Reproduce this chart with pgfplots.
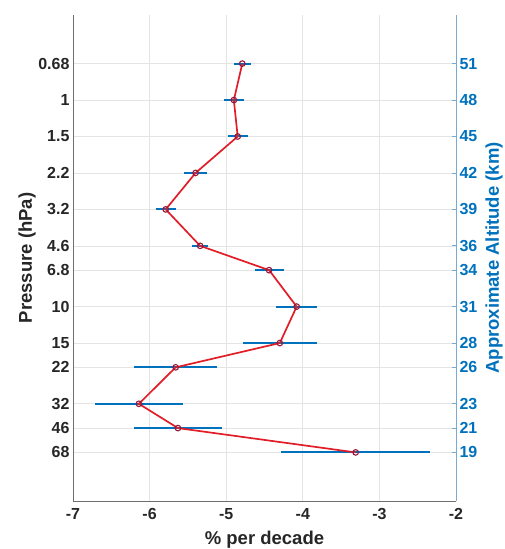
\documentclass[border=0pt]{standalone}
\usepackage{pgfplots}
\pgfplotsset{compat=1.18}
\usepackage{fontspec}
\setmainfont{Liberation Sans}

\definecolor{mblue}{RGB}{0,114,189}
\definecolor{axblue}{RGB}{120,170,210}
\definecolor{axgray}{RGB}{110,110,110}
\definecolor{gridgray}{RGB}{228,228,228}
\definecolor{trendred}{RGB}{225,30,40}
\definecolor{markedge}{RGB}{150,25,60}

% trend (%/decade) and its uncertainty versus approximate altitude (km)
\pgfplotstableread{
  x      y   e
  -4.79  51  0.11
  -4.90  48  0.13
  -4.85  45  0.13
  -5.40  42  0.155
  -5.79  39  0.13
  -5.34  36  0.10
  -4.44  34  0.19
  -4.08  31  0.27
  -4.30  28  0.48
  -5.66  26  0.545
  -6.14  23  0.57
  -5.63  21  0.57
  -3.31  19  0.97
}\trend

\begin{document}
\begin{tikzpicture}
\useasboundingbox (-73pt,-48pt) rectangle (431pt,501pt);
\begin{axis}[
  at={(0,0)}, anchor=south west,
  scale only axis, width=383pt, height=486pt,
  xmin=-7, xmax=-2, ymin=15, ymax=55,
  axis x line*=bottom, axis y line*=left,
  axis line style={axgray, line width=0.8pt, -},
  xtick={-7,-6,-5,-4,-3,-2},
  ytick={19,21,23,26,28,31,34,36,39,42,45,48,51},
  yticklabels={68,46,32,22,15,10,6.8,4.6,3.2,2.2,1.5,1,0.68},
  grid=major, major grid style={gridgray, line width=0.6pt},
  tick style={draw=none},
  ticklabel style={font=\fontsize{16}{19}\selectfont\bfseries, text=black!85},
  /pgf/number format/assume math mode=true,
  xticklabel style={yshift=-4pt},
  xlabel={\% per decade},
  ylabel={Pressure (hPa)},
  every axis x label/.style={at={(axis description cs:0.5,0)}, yshift=-39pt, anchor=center,
    font=\fontsize{18.5}{22}\selectfont\bfseries, text=black!85},
  every axis y label/.style={at={(axis description cs:0,0.5)}, xshift=-46pt, rotate=90, anchor=center,
    font=\fontsize{18.5}{22}\selectfont\bfseries, text=black!85},
  clip=false,
]
% horizontal uncertainty bars
\addplot[forget plot, draw=none, mark=none,
  error bars/.cd, x dir=both, x explicit, error mark=none,
  error bar style={draw=mblue, line width=2pt, solid}]
  table[x=x, y=y, x error=e] {\trend};
% trend profile
\addplot[trendred, line width=1.7pt, mark=o, mark size=2.8pt,
  mark options={draw=markedge, line width=1.1pt, fill=none}]
  table[x=x, y=y] {\trend};
\end{axis}
\begin{axis}[
  at={(0,0)}, anchor=south west,
  scale only axis, width=383pt, height=486pt,
  xmin=-7, xmax=-2, ymin=15, ymax=55,
  axis x line=none, axis y line*=right,
  axis line style={axblue, line width=0.8pt, -},
  ytick={19,21,23,26,28,31,34,36,39,42,45,48,51},
  ytick style={axblue, line width=0.8pt},
  tick align=inside, major tick length=4pt,
  yticklabel style={font=\fontsize{16}{19}\selectfont\bfseries, text=mblue},
  /pgf/number format/assume math mode=true,
  ylabel={Approximate Altitude (km)},
  every axis y label/.style={at={(axis description cs:1,0.5)}, xshift=38pt, rotate=90, anchor=center,
    font=\fontsize{18.5}{22}\selectfont\bfseries, text=mblue},
]
\end{axis}
\end{tikzpicture}
\end{document}
